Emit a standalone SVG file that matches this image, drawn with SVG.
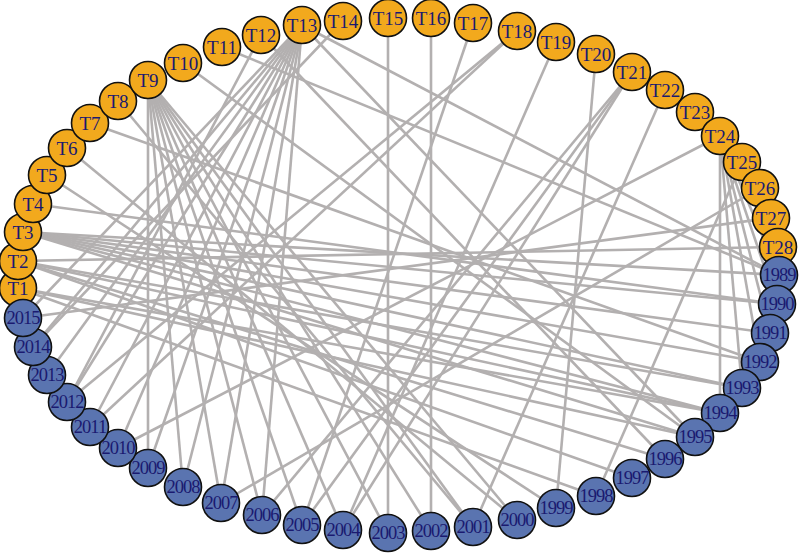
<svg xmlns="http://www.w3.org/2000/svg" width="800" height="553" viewBox="0 0 800 553">
<style>
.e line{stroke:#b3b0b0;stroke-width:2.6;fill:none}
.t circle{fill:#f2a91d;stroke:#111;stroke-width:1.6}
.y circle{fill:#5a74b0;stroke:#111;stroke-width:1.6}
text{font-family:"Liberation Serif","Times New Roman",serif;fill:#1a1a70;text-anchor:middle;dominant-baseline:central}
.t text{font-size:19px}
.y text{font-size:18.5px;letter-spacing:-1px}
</style>
<rect width="800" height="553" fill="#fff"/>
<g id="edges" class="e">
<line x1="148" y1="80" x2="148" y2="468"/>
<line x1="148" y1="80" x2="183" y2="487"/>
<line x1="148" y1="80" x2="221" y2="503"/>
<line x1="148" y1="80" x2="262" y2="515"/>
<line x1="148" y1="80" x2="302" y2="525"/>
<line x1="148" y1="80" x2="343" y2="530"/>
<line x1="148" y1="80" x2="388" y2="533"/>
<line x1="148" y1="80" x2="431" y2="531"/>
<line x1="148" y1="80" x2="473" y2="527"/>
<line x1="148" y1="80" x2="517" y2="520"/>
<line x1="302" y1="25" x2="262" y2="515"/>
<line x1="302" y1="25" x2="221" y2="503"/>
<line x1="302" y1="25" x2="183" y2="487"/>
<line x1="302" y1="25" x2="148" y2="468"/>
<line x1="302" y1="25" x2="118" y2="448"/>
<line x1="302" y1="25" x2="90" y2="427"/>
<line x1="302" y1="25" x2="67" y2="402"/>
<line x1="302" y1="25" x2="47" y2="375"/>
<line x1="302" y1="25" x2="33" y2="347"/>
<line x1="302" y1="25" x2="23" y2="318"/>
<line x1="302" y1="25" x2="779" y2="275"/>
<line x1="302" y1="25" x2="695" y2="437"/>
<line x1="23" y1="232" x2="779" y2="275"/>
<line x1="23" y1="232" x2="777" y2="304"/>
<line x1="23" y1="232" x2="770" y2="333"/>
<line x1="23" y1="232" x2="760" y2="362"/>
<line x1="23" y1="232" x2="742" y2="388"/>
<line x1="23" y1="232" x2="720" y2="413"/>
<line x1="23" y1="232" x2="695" y2="437"/>
<line x1="18" y1="261" x2="778" y2="247"/>
<line x1="18" y1="261" x2="742" y2="388"/>
<line x1="18" y1="261" x2="720" y2="413"/>
<line x1="18" y1="261" x2="665" y2="459"/>
<line x1="18" y1="261" x2="632" y2="478"/>
<line x1="18" y1="288" x2="720" y2="413"/>
<line x1="18" y1="288" x2="695" y2="437"/>
<line x1="18" y1="288" x2="596" y2="496"/>
<line x1="33" y1="204" x2="777" y2="304"/>
<line x1="47" y1="175" x2="556" y2="508"/>
<line x1="67" y1="148" x2="517" y2="520"/>
<line x1="90" y1="123" x2="760" y2="362"/>
<line x1="118" y1="101" x2="473" y2="527"/>
<line x1="183" y1="63" x2="695" y2="437"/>
<line x1="222" y1="47" x2="779" y2="275"/>
<line x1="261" y1="35" x2="67" y2="402"/>
<line x1="261" y1="35" x2="665" y2="459"/>
<line x1="343" y1="21" x2="33" y2="347"/>
<line x1="388" y1="18" x2="388" y2="533"/>
<line x1="431" y1="18" x2="431" y2="531"/>
<line x1="473" y1="23" x2="302" y2="525"/>
<line x1="517" y1="31" x2="67" y2="402"/>
<line x1="517" y1="31" x2="90" y2="427"/>
<line x1="556" y1="42" x2="343" y2="530"/>
<line x1="596" y1="54" x2="556" y2="508"/>
<line x1="632" y1="72" x2="343" y2="530"/>
<line x1="632" y1="72" x2="302" y2="525"/>
<line x1="632" y1="72" x2="262" y2="515"/>
<line x1="665" y1="90" x2="473" y2="527"/>
<line x1="720" y1="136" x2="779" y2="275"/>
<line x1="720" y1="136" x2="777" y2="304"/>
<line x1="720" y1="136" x2="770" y2="333"/>
<line x1="720" y1="136" x2="760" y2="362"/>
<line x1="720" y1="136" x2="742" y2="388"/>
<line x1="720" y1="136" x2="720" y2="413"/>
<line x1="720" y1="136" x2="118" y2="448"/>
<line x1="742" y1="162" x2="596" y2="496"/>
<line x1="760" y1="188" x2="221" y2="503"/>
<line x1="771" y1="218" x2="23" y2="318"/>
</g>
<g id="n-T1" class="t"><circle cx="18" cy="288" r="18.5"/><text x="18" y="288">T1</text></g>
<g id="n-T2" class="t"><circle cx="18" cy="261" r="18.5"/><text x="18" y="261">T2</text></g>
<g id="n-T3" class="t"><circle cx="23" cy="232" r="18.5"/><text x="23" y="232">T3</text></g>
<g id="n-T4" class="t"><circle cx="33" cy="204" r="18.5"/><text x="33" y="204">T4</text></g>
<g id="n-T5" class="t"><circle cx="47" cy="175" r="18.5"/><text x="47" y="175">T5</text></g>
<g id="n-T6" class="t"><circle cx="67" cy="148" r="18.5"/><text x="67" y="148">T6</text></g>
<g id="n-T7" class="t"><circle cx="90" cy="123" r="18.5"/><text x="90" y="123">T7</text></g>
<g id="n-T8" class="t"><circle cx="118" cy="101" r="18.5"/><text x="118" y="101">T8</text></g>
<g id="n-T9" class="t"><circle cx="148" cy="80" r="18.5"/><text x="148" y="80">T9</text></g>
<g id="n-T10" class="t"><circle cx="183" cy="63" r="18.5"/><text x="183" y="63">T10</text></g>
<g id="n-T11" class="t"><circle cx="222" cy="47" r="18.5"/><text x="222" y="47">T11</text></g>
<g id="n-T12" class="t"><circle cx="261" cy="35" r="18.5"/><text x="261" y="35">T12</text></g>
<g id="n-T13" class="t"><circle cx="302" cy="25" r="18.5"/><text x="302" y="25">T13</text></g>
<g id="n-T14" class="t"><circle cx="343" cy="21" r="18.5"/><text x="343" y="21">T14</text></g>
<g id="n-T15" class="t"><circle cx="388" cy="18" r="18.5"/><text x="388" y="18">T15</text></g>
<g id="n-T16" class="t"><circle cx="431" cy="18" r="18.5"/><text x="431" y="18">T16</text></g>
<g id="n-T17" class="t"><circle cx="473" cy="23" r="18.5"/><text x="473" y="23">T17</text></g>
<g id="n-T18" class="t"><circle cx="517" cy="31" r="18.5"/><text x="517" y="31">T18</text></g>
<g id="n-T19" class="t"><circle cx="556" cy="42" r="18.5"/><text x="556" y="42">T19</text></g>
<g id="n-T20" class="t"><circle cx="596" cy="54" r="18.5"/><text x="596" y="54">T20</text></g>
<g id="n-T21" class="t"><circle cx="632" cy="72" r="18.5"/><text x="632" y="72">T21</text></g>
<g id="n-T22" class="t"><circle cx="665" cy="90" r="18.5"/><text x="665" y="90">T22</text></g>
<g id="n-T23" class="t"><circle cx="695" cy="112" r="18.5"/><text x="695" y="112">T23</text></g>
<g id="n-T24" class="t"><circle cx="720" cy="136" r="18.5"/><text x="720" y="136">T24</text></g>
<g id="n-T25" class="t"><circle cx="742" cy="162" r="18.5"/><text x="742" y="162">T25</text></g>
<g id="n-T26" class="t"><circle cx="760" cy="188" r="18.5"/><text x="760" y="188">T26</text></g>
<g id="n-T27" class="t"><circle cx="771" cy="218" r="18.5"/><text x="771" y="218">T27</text></g>
<g id="n-T28" class="t"><circle cx="778" cy="247" r="18.5"/><text x="778" y="247">T28</text></g>
<g id="n-1989" class="y"><circle cx="779" cy="275" r="18.5"/><text x="779" y="275">1989</text></g>
<g id="n-1990" class="y"><circle cx="777" cy="304" r="18.5"/><text x="777" y="304">1990</text></g>
<g id="n-1991" class="y"><circle cx="770" cy="333" r="18.5"/><text x="770" y="333">1991</text></g>
<g id="n-1992" class="y"><circle cx="760" cy="362" r="18.5"/><text x="760" y="362">1992</text></g>
<g id="n-1993" class="y"><circle cx="742" cy="388" r="18.5"/><text x="742" y="388">1993</text></g>
<g id="n-1994" class="y"><circle cx="720" cy="413" r="18.5"/><text x="720" y="413">1994</text></g>
<g id="n-1995" class="y"><circle cx="695" cy="437" r="18.5"/><text x="695" y="437">1995</text></g>
<g id="n-1996" class="y"><circle cx="665" cy="459" r="18.5"/><text x="665" y="459">1996</text></g>
<g id="n-1997" class="y"><circle cx="632" cy="478" r="18.5"/><text x="632" y="478">1997</text></g>
<g id="n-1998" class="y"><circle cx="596" cy="496" r="18.5"/><text x="596" y="496">1998</text></g>
<g id="n-1999" class="y"><circle cx="556" cy="508" r="18.5"/><text x="556" y="508">1999</text></g>
<g id="n-2000" class="y"><circle cx="517" cy="520" r="18.5"/><text x="517" y="520">2000</text></g>
<g id="n-2001" class="y"><circle cx="473" cy="527" r="18.5"/><text x="473" y="527">2001</text></g>
<g id="n-2002" class="y"><circle cx="431" cy="531" r="18.5"/><text x="431" y="531">2002</text></g>
<g id="n-2003" class="y"><circle cx="388" cy="533" r="18.5"/><text x="388" y="533">2003</text></g>
<g id="n-2004" class="y"><circle cx="343" cy="530" r="18.5"/><text x="343" y="530">2004</text></g>
<g id="n-2005" class="y"><circle cx="302" cy="525" r="18.5"/><text x="302" y="525">2005</text></g>
<g id="n-2006" class="y"><circle cx="262" cy="515" r="18.5"/><text x="262" y="515">2006</text></g>
<g id="n-2007" class="y"><circle cx="221" cy="503" r="18.5"/><text x="221" y="503">2007</text></g>
<g id="n-2008" class="y"><circle cx="183" cy="487" r="18.5"/><text x="183" y="487">2008</text></g>
<g id="n-2009" class="y"><circle cx="148" cy="468" r="18.5"/><text x="148" y="468">2009</text></g>
<g id="n-2010" class="y"><circle cx="118" cy="448" r="18.5"/><text x="118" y="448">2010</text></g>
<g id="n-2011" class="y"><circle cx="90" cy="427" r="18.5"/><text x="90" y="427">2011</text></g>
<g id="n-2012" class="y"><circle cx="67" cy="402" r="18.5"/><text x="67" y="402">2012</text></g>
<g id="n-2013" class="y"><circle cx="47" cy="375" r="18.5"/><text x="47" y="375">2013</text></g>
<g id="n-2014" class="y"><circle cx="33" cy="347" r="18.5"/><text x="33" y="347">2014</text></g>
<g id="n-2015" class="y"><circle cx="23" cy="318" r="18.5"/><text x="23" y="318">2015</text></g>
</svg>
